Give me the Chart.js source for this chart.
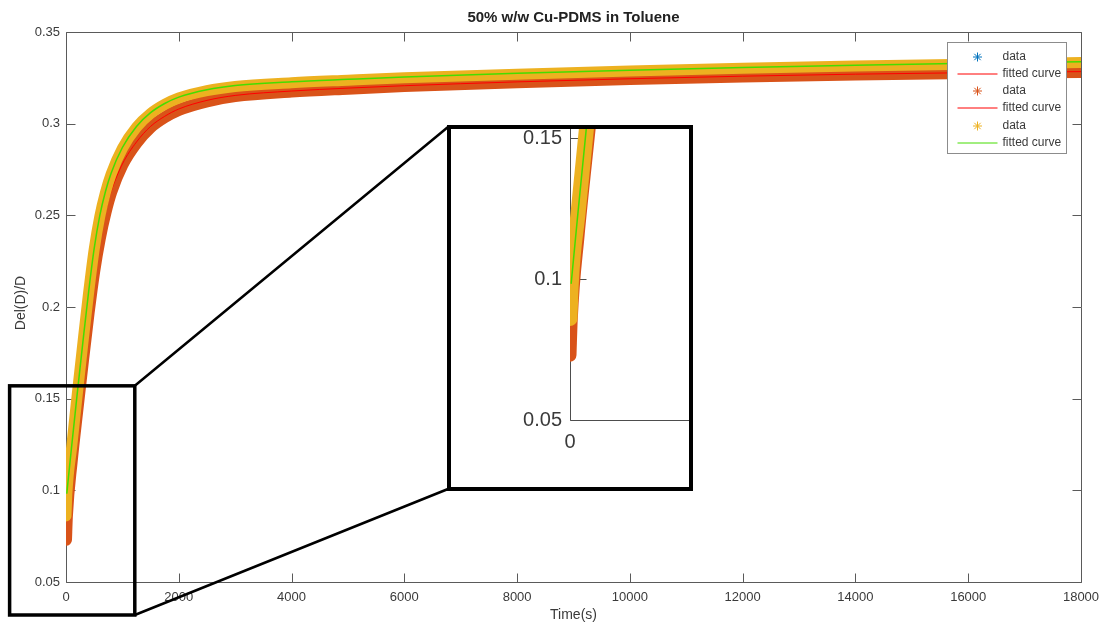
<!DOCTYPE html>
<html>
<head>
<meta charset="utf-8">
<script src="https://cdn.jsdelivr.net/npm/chart.js@4.4.0/dist/chart.umd.min.js"></script>
<style>
  html, body { margin: 0; padding: 0; background: #fff; }
  #wrap { position: relative; width: 1099px; height: 628px; }
  canvas { display: block; }
  #inset { position: absolute; left: 447px; top: 125px; width: 246px; height: 366px;
           border: 4px solid #000; box-sizing: border-box; background: #fff; }
</style>
</head>
<body>
<div id="wrap">
  <canvas id="mainChart" width="1099" height="628"></canvas>
  <div id="inset"><canvas id="insetChart" width="238" height="358"></canvas></div>
</div>
<script>
const fontFamily = "'Liberation Sans', Arial, Helvetica, sans-serif";
const textColor = '#3a3a3a';
const axisColor = '#5a5a5a';

const chartTitle = '50% w/w Cu-PDMS in Toluene';
const xTitle = 'Time(s)';
const yTitle = 'Del(D)/D';

// time (s) of the measured bands and of the fitted curves
const dataTimes = [0, 15, 100, 200, 300, 400, 500, 600, 700, 800, 1000, 1250, 1500, 1750, 2000,
                   2500, 3000, 4000, 5000, 6000, 8000, 10000, 12000, 14000, 16000, 18000];
const fitTimes = [15, 100, 200, 300, 400, 500, 600, 700, 800, 1000, 1250, 1500, 1750, 2000,
                  2500, 3000, 4000, 5000, 6000, 8000, 10000, 12000, 14000, 16000, 18000];

const blueData   = [0.088, 0.0985, 0.1238, 0.1528, 0.1808, 0.2078, 0.2318, 0.2498, 0.2628, 0.2728, 0.2868, 0.2982, 0.3057,
                    0.3107, 0.3142, 0.3182, 0.3205, 0.3225, 0.3239, 0.3252, 0.3272, 0.3289, 0.3304, 0.3316, 0.3326, 0.3335];
const orangeData = [0.073, 0.0855, 0.1155, 0.1435, 0.1705, 0.1965, 0.2195, 0.2375, 0.2515, 0.2625, 0.2775, 0.2895, 0.298,
                    0.3035, 0.3075, 0.3122, 0.315, 0.3175, 0.3191, 0.3205, 0.3226, 0.3243, 0.3257, 0.3268, 0.3276, 0.3282];
const yellowData = [0.086, 0.098, 0.1235, 0.1525, 0.1805, 0.2075, 0.2315, 0.2495, 0.2625, 0.2725, 0.2865, 0.298, 0.3055,
                    0.3105, 0.314, 0.318, 0.3203, 0.3223, 0.3237, 0.325, 0.327, 0.3287, 0.3302, 0.3314, 0.3324, 0.3333];

const blueFit   = [0.099, 0.1245, 0.1535, 0.1815, 0.2085, 0.2325, 0.2505, 0.2635, 0.2735, 0.2872, 0.2987, 0.3062,
                   0.3112, 0.3147, 0.3187, 0.321, 0.323, 0.3244, 0.3257, 0.3277, 0.3294, 0.3309, 0.3321, 0.3331, 0.334];
const orangeFit = [0.0865, 0.116, 0.144, 0.171, 0.197, 0.220, 0.238, 0.252, 0.263, 0.278, 0.290, 0.2985,
                   0.304, 0.308, 0.3127, 0.3154, 0.3178, 0.3194, 0.3207, 0.3228, 0.3245, 0.3259, 0.3270, 0.3278, 0.3284];
const yellowFit = [0.0985, 0.124, 0.153, 0.181, 0.208, 0.232, 0.250, 0.263, 0.273, 0.287, 0.2985, 0.306,
                   0.311, 0.3145, 0.3185, 0.3208, 0.3228, 0.3242, 0.3255, 0.3275, 0.3292, 0.3307, 0.3319, 0.3329, 0.3338];

const xTicks = [0, 2000, 4000, 6000, 8000, 10000, 12000, 14000, 16000, 18000];
const yTicks = [0.05, 0.1, 0.15, 0.2, 0.25, 0.3, 0.35];
const insetXTicks = [0];
const insetYTicks = [0.05, 0.1, 0.15];

// region of the main axes that the inset magnifies (drawn as the black box)
const zoomRegion = { t0: -1000, t1: 1220, y0: 0.032, y1: 0.157 };

function toPoints(times, values) {
    return times.map((t, i) => ({ x: t, y: values[i] }));
}

function buildDatasets(w) {
    const base = {
        showLine: true, pointRadius: 0, pointHoverRadius: 0, fill: false,
        cubicInterpolationMode: 'monotone', borderCapStyle: 'round', borderJoinStyle: 'round'
    };
    return [
        { ...base, label: 'data', marker: 'star', data: toPoints(dataTimes, blueData), borderColor: '#0072BD', borderWidth: w.blue, order: 5 },
        { ...base, label: 'fitted curve', marker: 'line', data: toPoints(fitTimes, blueFit), borderColor: '#FF0000', borderWidth: 1, order: 4 },
        { ...base, label: 'data', marker: 'star', data: toPoints(dataTimes, orangeData), borderColor: '#D95319', borderWidth: w.orange, order: 3 },
        { ...base, label: 'fitted curve', marker: 'line', data: toPoints(fitTimes, orangeFit), borderColor: '#FF0000', borderWidth: 1, order: 2 },
        { ...base, label: 'data', marker: 'star', data: toPoints(dataTimes, yellowData), borderColor: '#EDB120', borderWidth: w.yellow, order: 1 },
        { ...base, label: 'fitted curve', marker: 'line', data: toPoints(fitTimes, yellowFit), borderColor: '#44DD00', borderWidth: 1.5, order: 0 }
    ];
}

function axisOptions(min, max, tickValues, size, padding, fit) {
    return {
        type: 'linear', min: min, max: max,
        grid: { display: false, drawTicks: false },
        border: { display: false },
        afterBuildTicks: s => { s.ticks = tickValues.map(v => ({ value: v })); },
        afterFit: fit,
        ticks: {
            autoSkip: false, maxRotation: 0, padding: padding, color: textColor,
            font: { family: fontFamily, size: size },
            callback: v => String(v)
        }
    };
}

function drawStar(ctx, x, y, r) {
    if (Chart.helpers && Chart.helpers.drawPoint) {
        Chart.helpers.drawPoint(ctx, { pointStyle: 'star', radius: r, borderWidth: 1, rotation: 0 }, x, y);
        return;
    }
    ctx.beginPath();
    for (let k = 0; k < 4; k++) {
        const a = k * Math.PI / 4;
        ctx.moveTo(x - Math.cos(a) * r, y - Math.sin(a) * r);
        ctx.lineTo(x + Math.cos(a) * r, y + Math.sin(a) * r);
    }
    ctx.stroke();
}

const mainDecor = {
    id: 'mainDecor',
    beforeDatasetsDraw(chart) {
        const { ctx, chartArea: a, scales: { x, y } } = chart;
        const L = Math.round(a.left) + 0.5, R = Math.round(a.right) + 0.5;
        const T = Math.round(a.top) + 0.5, B = Math.round(a.bottom) + 0.5;
        const tl = 9;
        ctx.save();
        ctx.strokeStyle = axisColor;
        ctx.lineWidth = 1;
        ctx.beginPath();
        ctx.rect(L, T, R - L, B - T);
        x.ticks.forEach(t => {
            const px = Math.round(x.getPixelForValue(t.value)) + 0.5;
            ctx.moveTo(px, B); ctx.lineTo(px, B - tl);
            ctx.moveTo(px, T); ctx.lineTo(px, T + tl);
        });
        y.ticks.forEach(t => {
            const py = Math.round(y.getPixelForValue(t.value)) + 0.5;
            ctx.moveTo(L, py); ctx.lineTo(L + tl, py);
            ctx.moveTo(R, py); ctx.lineTo(R - tl, py);
        });
        ctx.stroke();
        ctx.restore();
    },
    afterDraw(chart) {
        const { ctx, chartArea: a, scales: { x, y } } = chart;
        ctx.save();

        // titles
        ctx.fillStyle = '#222';
        ctx.font = `bold 15px ${fontFamily}`;
        ctx.textAlign = 'center';
        ctx.textBaseline = 'alphabetic';
        ctx.fillText(chartTitle, (a.left + a.right) / 2, a.top - 10);

        ctx.fillStyle = textColor;
        ctx.font = `14px ${fontFamily}`;
        ctx.textBaseline = 'middle';
        ctx.fillText(xTitle, (a.left + a.right) / 2, 615);
        ctx.save();
        ctx.translate(21, 303);
        ctx.rotate(-Math.PI / 2);
        ctx.fillText(yTitle, 0, 0);
        ctx.restore();

        // legend
        const lx = 947.5, ly = 42.5, lw = 119, lh = 111;
        ctx.fillStyle = '#fff';
        ctx.fillRect(lx, ly, lw, lh);
        ctx.strokeStyle = '#8c8c8c';
        ctx.lineWidth = 1;
        ctx.strokeRect(lx, ly, lw, lh);
        chart.data.datasets.forEach((ds, i) => {
            const cy = Math.round(ly + 14 + i * 17.3);
            ctx.strokeStyle = ds.borderColor;
            ctx.lineWidth = 1;
            if (ds.marker === 'star') {
                drawStar(ctx, lx + 30, cy, 4.5);
            } else {
                ctx.beginPath();
                ctx.moveTo(lx + 10, cy);
                ctx.lineTo(lx + 50, cy);
                ctx.stroke();
            }
            ctx.fillStyle = textColor;
            ctx.font = `12px ${fontFamily}`;
            ctx.textAlign = 'left';
            ctx.textBaseline = 'middle';
            ctx.fillText(ds.label, lx + 55, cy);
        });

        // zoom box and the lines joining it to the inset
        const rx0 = x.getPixelForValue(zoomRegion.t0), rx1 = x.getPixelForValue(zoomRegion.t1);
        const ry0 = y.getPixelForValue(zoomRegion.y0), ry1 = y.getPixelForValue(zoomRegion.y1);
        ctx.strokeStyle = '#000';
        ctx.lineWidth = 3.5;
        ctx.strokeRect(rx0, ry1, rx1 - rx0, ry0 - ry1);
        const box = document.getElementById('inset');
        const bx = box.offsetLeft, by = box.offsetTop, bh = box.offsetHeight;
        ctx.lineWidth = 2.5;
        ctx.beginPath();
        ctx.moveTo(rx1, ry1); ctx.lineTo(bx + 1, by + 2);
        ctx.moveTo(rx1, ry0); ctx.lineTo(bx + 1, by + bh - 2);
        ctx.stroke();
        ctx.restore();
    }
};

const insetDecor = {
    id: 'insetDecor',
    beforeDatasetsDraw(chart) {
        const { ctx, chartArea: a, scales: { y } } = chart;
        const L = Math.round(a.left) + 0.5, B = Math.round(a.bottom) + 0.5;
        ctx.save();
        ctx.strokeStyle = '#4d4d4d';
        ctx.lineWidth = 1;
        ctx.beginPath();
        ctx.moveTo(L, a.top); ctx.lineTo(L, B); ctx.lineTo(a.right, B);
        insetYTicks.forEach(v => {
            const py = Math.round(y.getPixelForValue(v)) + 0.5;
            ctx.moveTo(L, py); ctx.lineTo(L + 16, py);
        });
        ctx.stroke();
        ctx.restore();
    }
};

new Chart(document.getElementById('mainChart'), {
    type: 'scatter',
    data: { datasets: buildDatasets({ blue: 8, orange: 12, yellow: 11 }) },
    options: {
        responsive: false, animation: false, events: [],
        layout: { padding: { top: 32, right: 18, left: 0, bottom: 0 } },
        plugins: { legend: { display: false }, tooltip: { enabled: false }, title: { display: false } },
        scales: {
            x: axisOptions(0, 18000, xTicks, 13, 8, s => { s.height = 46; s.paddingLeft = 0; s.paddingRight = 0; }),
            y: axisOptions(0.05, 0.35, yTicks, 13, 6, s => { s.width = 66; s.paddingTop = 0; s.paddingBottom = 0; })
        }
    },
    plugins: [mainDecor]
});

new Chart(document.getElementById('insetChart'), {
    type: 'scatter',
    data: { datasets: buildDatasets({ blue: 10, orange: 13, yellow: 15 }) },
    options: {
        responsive: false, animation: false, events: [],
        layout: { padding: 0 },
        plugins: { legend: { display: false }, tooltip: { enabled: false } },
        scales: {
            x: axisOptions(0, 1470, insetXTicks, 20, 10, s => { s.height = 67; s.paddingLeft = 0; s.paddingRight = 0; }),
            y: axisOptions(0.05, 0.1532, insetYTicks, 20, 8, s => { s.width = 119; s.paddingTop = 0; s.paddingBottom = 0; })
        }
    },
    plugins: [insetDecor]
});
</script>
</body>
</html>
